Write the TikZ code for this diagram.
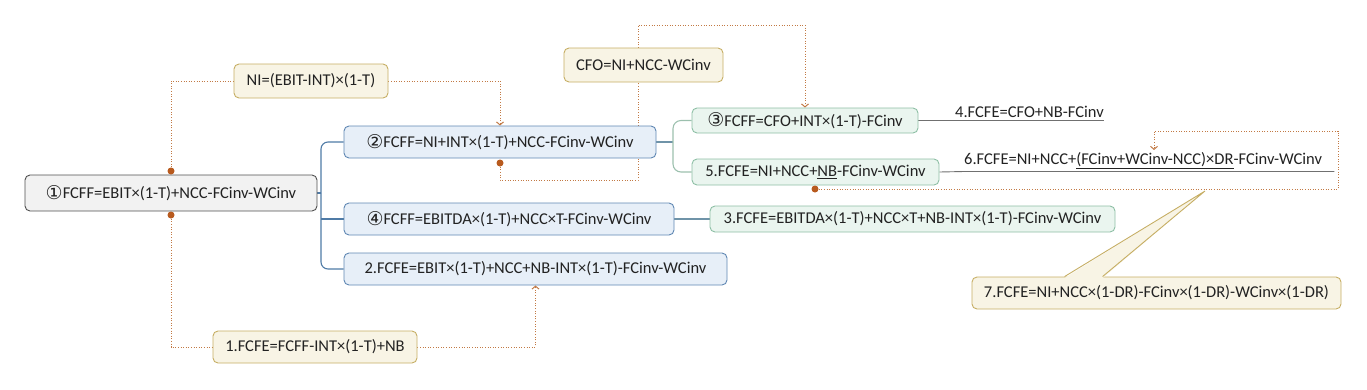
\documentclass[tikz,border=0pt]{standalone}
\usepackage{fontspec}
\setmainfont{Carlito}
\newfontfamily\circfont{DejaVu Sans}
\usetikzlibrary{arrows.meta,backgrounds}
\definecolor{txt}{HTML}{222222}
\definecolor{gfill}{HTML}{F2F2F2}
\definecolor{gline}{HTML}{505050}
\definecolor{bfill}{HTML}{E7EFF8}
\definecolor{bline}{HTML}{5F87B3}
\definecolor{grfill}{HTML}{EAF5EF}
\definecolor{grline}{HTML}{8DBFA5}
\definecolor{cfill}{HTML}{F8F4E5}
\definecolor{cline}{HTML}{C6AE64}
\definecolor{rcol}{HTML}{C27A45}
\definecolor{dcol}{HTML}{B85A1E}
\definecolor{tline}{HTML}{4F7BA6}
\definecolor{tline2}{HTML}{6F93A8}
\definecolor{tline3}{HTML}{9CC0AE}
\definecolor{ulcol}{HTML}{707070}
\newcommand{\cnum}[1]{{\circfont\fontsize{19}{19}\selectfont\raisebox{-0.5pt}{#1}}}
\begin{document}
\begin{tikzpicture}[x=1pt,y=-1pt,
  font=\fontsize{16.5}{18}\selectfont,
  every node/.style={text=txt},
  box/.style={draw, rounded corners=5pt, line width=0.9pt, inner sep=0pt, align=center},
  graybox/.style={box, fill=gfill, draw=gline, minimum height=36pt},
  bluebox/.style={box, fill=bfill, draw=bline, minimum height=32pt},
  greenbox/.style={box, fill=grfill, draw=grline, minimum height=26pt},
  creambox/.style={box, fill=cfill, draw=cline, minimum height=33pt},
  tree/.style={draw=tline, line width=1.1pt, rounded corners=7pt},
  treeb/.style={draw=tline2, line width=1.1pt},
  treec/.style={draw=tline3, line width=1.1pt, rounded corners=8pt},
  rel/.style={draw=rcol, line width=1pt, dash pattern=on 1pt off 1.6pt},
  relarrow/.style={rel, -{Straight Barb[length=3pt,width=7pt]}},
  reldot/.style={circle, fill=dcol, inner sep=0pt, minimum size=7pt},
  ulstyle/.style={draw=ulcol, line width=0.9pt},
  plain/.style={anchor=south west, inner xsep=0pt, inner ysep=2.5pt, align=left}
]
\useasboundingbox (0,0) rectangle (1367,389);

\node[graybox, minimum width=292pt] (n1) at (171,193) {\cnum{①}FCFF=EBIT×(1-T)+NCC-FCinv-WCinv};
\node[creambox, minimum width=154pt, minimum height=34pt] (ni) at (311,81) {NI=(EBIT-INT)×(1-T)};
\node[bluebox, minimum width=312pt] (n2) at (500,142) {\cnum{②}FCFF=NI+INT×(1-T)+NCC-FCinv-WCinv};
\node[creambox, minimum width=159pt, minimum height=34pt] (cfo) at (643.5,65) {CFO=NI+NCC-WCinv};
\node[greenbox, minimum width=226pt, minimum height=25pt] (n3) at (805,120.5) {\cnum{③}FCFF=CFO+INT×(1-T)-FCinv};
\node[greenbox, minimum width=247pt] (n5) at (815.5,172) {5.FCFE=NI+NCC+\underline{NB}-FCinv-WCinv};
\node[bluebox, minimum width=330pt] (n4) at (509,219) {\cnum{④}FCFF=EBITDA×(1-T)+NCC×T-FCinv-WCinv};
\node[greenbox, minimum width=405pt] (n3b) at (912.5,219) {3.FCFE=EBITDA×(1-T)+NCC×T+NB-INT×(1-T)-FCinv-WCinv};
\node[bluebox, minimum width=383pt] (n2b) at (535.5,269) {2.FCFE=EBIT×(1-T)+NCC+NB-INT×(1-T)-FCinv-WCinv};
\node[creambox, minimum width=204pt, minimum height=32pt] (f1) at (315,347) {1.FCFE=FCFF-INT×(1-T)+NB};
\node[creambox, minimum width=369pt, minimum height=32pt] (n7) at (1156.5,293) {7.FCFE=NI+NCC×(1-DR)-FCinv×(1-DR)-WCinv×(1-DR)};

\node[plain, text width=149pt] (t4) at (955,120.5) {4.FCFE=CFO+NB-FCinv};
\node[plain, text width=370pt] (t6) at (964,171.5) {6.FCFE=NI+NCC+\underline{(FCinv+WCinv-NCC)×DR}-FCinv-WCinv};

\node[reldot] (d1) at (171,171) {};
\node[reldot] (d2) at (171,215) {};
\node[reldot] (d3) at (500,163) {};
\node[reldot] (d4) at (815,189) {};

\coordinate (j1) at (321,193);
\coordinate (j2) at (673,142);
\coordinate (c3a) at (638,180);
\coordinate (c3b) at (638,25);
\coordinate (c4a) at (1338,189);
\coordinate (c4b) at (1338,131);
\coordinate (c4c) at (1154,150);
\coordinate (tip) at (1205,191);

\begin{pgfonlayer}{background}
\draw[tree] (n1.east) -- (j1);
\draw[tree] (n2.west) -| (j1);
\draw[tree] (n2b.west) -| (j1);
\draw[tree] (n4.west) -- (n4.west -| j1);
\draw[treeb] (n2.east) -- (j2);
\draw[treec] (n3.west) -| (j2);
\draw[treec] (n5.west) -| (j2);
\draw[treeb] (n4.east) -- (n3b.west);
\draw[ulstyle] (n3.east) -- (t4.south west) -- (t4.south east);
\draw[ulstyle] (n5.east) -- (t6.south west) -- (t6.south east);
\draw[rel] (d1) |- (ni.west);
\draw[relarrow] (ni.east) -| (n2.north);
\draw[rel] (d2) |- (f1.west);
\draw[relarrow] (f1.east) -| (n2b.south);
\draw[relarrow] (d3) |- (c3a) -- (c3b) -| (n3.north);
\draw[relarrow] (d4) -- (c4a) -- (c4b) -| (c4c);
\end{pgfonlayer}

\fill[cfill] ([xshift=93pt,yshift=-1.5pt]n7.north west) -- (tip) -- ([xshift=131pt,yshift=-1.5pt]n7.north west) -- cycle;
\draw[cline, line width=0.9pt] ([xshift=93pt]n7.north west) -- (tip) -- ([xshift=131pt]n7.north west);
\end{tikzpicture}
\end{document}
